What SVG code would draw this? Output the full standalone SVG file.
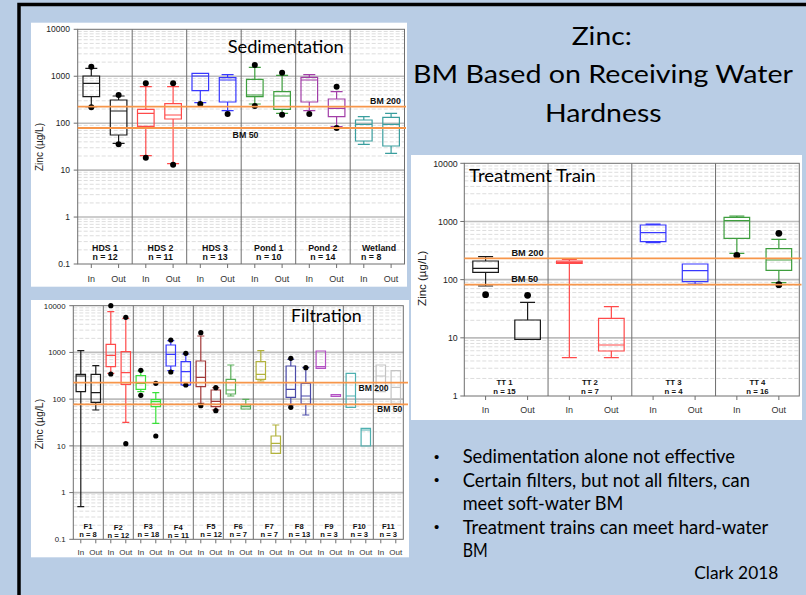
<svg xmlns="http://www.w3.org/2000/svg" xmlns:xlink="http://www.w3.org/1999/xlink" width="806" height="595" viewBox="0 0 806 595">
<style>
.bg{fill:#B9CDE5}
.panel{fill:#FFFFFF}
.minor{fill:none;stroke:#D4D4D4;stroke-width:0.8;stroke-dasharray:4 2}
.major{fill:none;stroke:#BDBDBD;stroke-width:1.6}
.frame{fill:none;stroke:#6E6E6E;stroke-width:1}
.bm{fill:none;stroke:#F7964A;stroke-width:1.8}
.bx{fill:none;stroke-width:1.2}
.dot{fill:#000}
.k{stroke:#1A1A1A}.r{stroke:#FF4A4A}.b{stroke:#3838FF}.g{stroke:#3E9E3E}.p{stroke:#A23EA8}.t{stroke:#3A9E9E}
.l{stroke:#3AE03A}.dr{stroke:#A23A3A}.gr{stroke:#5AAE5A}.o{stroke:#B2B23C}.s{stroke:#4A4AA8}.p2{stroke:#B452C4}.t2{stroke:#4EB0B0}.lg{stroke:#C4C4C4}
.ax{font-family:"Liberation Sans",Arial,sans-serif;fill:#222}
.lab{font-family:"Liberation Sans",Arial,sans-serif;font-weight:bold;fill:#111;text-anchor:middle}
.io{font-family:"Liberation Sans",Arial,sans-serif;fill:#333;text-anchor:middle}
.cal{font-family:Lato,"Liberation Sans",sans-serif;fill:#000}
.bul{font-family:"Liberation Sans",Arial,sans-serif;fill:#000;text-anchor:middle}
</style>
<defs>
<path id="decS" class="minor" d="M0 2.15h326.8M0 4.55h326.8M0 7.27h326.8M0 10.41h326.8M0 14.13h326.8M0 18.68h326.8M0 24.54h326.8M0 32.81h326.8"/>
<path id="decF" class="minor" d="M0 2.14h330M0 4.53h330M0 7.24h330M0 10.36h330M0 14.06h330M0 18.59h330M0 24.43h330M0 32.66h330"/>
<path id="decT" class="minor" d="M0 2.66h335M0 5.64h335M0 9.01h335M0 12.9h335M0 17.51h335M0 23.15h335M0 30.42h335M0 40.67h335"/>
</defs>

<rect class="bg" x="0" y="0" width="806" height="595"/>
<path d="M19 595V4.5H806" fill="none" stroke="#000" stroke-width="3.5"/>

<!-- Sedimentation chart -->
<g id="sedimentation">
<rect class="panel" x="31" y="22.7" width="376" height="264"/>
<use xlink:href="#decS" x="77.7" y="29.3"/>
<use xlink:href="#decS" x="77.7" y="76.24"/>
<use xlink:href="#decS" x="77.7" y="123.18"/>
<use xlink:href="#decS" x="77.7" y="170.12"/>
<use xlink:href="#decS" x="77.7" y="217.06"/>
<path class="major" d="M77.7 76.24H404.5M77.7 123.18H404.5M77.7 170.12H404.5M77.7 217.06H404.5"/>
<rect class="frame" x="77.7" y="29.3" width="326.8" height="234.7"/>
<path class="frame" d="M132.2 29.3V264M186.7 29.3V264M241.2 29.3V264M295.7 29.3V264M350.2 29.3V264M73.7 29.3H77.7M73.7 76.24H77.7M73.7 123.18H77.7M73.7 170.12H77.7M73.7 217.06H77.7M73.7 264H77.7M91.3 264v4M118.6 264v4M145.8 264v4M173.1 264v4M200.3 264v4M227.6 264v4M254.8 264v4M282.1 264v4M309.3 264v4M336.6 264v4M363.8 264v4M391.1 264v4"/>
<path class="bx k" d="M83 76H99.6V96.7H83ZM83 83.3H99.6M91.3 68.3V76M91.3 96.7V106.7M85.3 68.3H97.3M85.3 106.7H97.3"/>
<path class="bx k" d="M110.3 100H126.9V135H110.3ZM110.3 111H126.9M118.6 96V100M118.6 135V143.3M112.6 96H124.6M112.6 143.3H124.6"/>
<path class="bx r" d="M137.5 109.3H154.1V126.3H137.5ZM137.5 113.3H154.1M145.8 86.7V109.3M145.8 126.3V155.7M139.8 86.7H151.8M139.8 155.7H151.8"/>
<path class="bx r" d="M164.8 103.7H181.4V119H164.8ZM164.8 115H181.4M173.1 86.7V103.7M173.1 119V163.7M167.1 86.7H179.1M167.1 163.7H179.1"/>
<path class="bx b" d="M192 73.3H208.6V90.7H192ZM192 76H208.6M200.3 90.7V102.7M194.3 73.3H206.3M194.3 102.7H206.3"/>
<path class="bx b" d="M219.3 77.7H235.9V102H219.3ZM219.3 80H235.9M227.6 74.7V77.7M227.6 102V110.7M221.6 74.7H233.6M221.6 110.7H233.6"/>
<path class="bx g" d="M246.5 79.3H263.1V96.7H246.5ZM246.5 95H263.1M254.8 67.3V79.3M254.8 96.7V104M248.8 67.3H260.8M248.8 104H260.8"/>
<path class="bx g" d="M273.8 91.7H290.4V109.3H273.8ZM273.8 96H290.4M282.1 75.3V91.7M282.1 109.3V113.3M276.1 75.3H288.1M276.1 113.3H288.1"/>
<path class="bx p" d="M301 77.3H317.6V102H301ZM301 80H317.6M309.3 74.7V77.3M309.3 102V110.7M303.3 74.7H315.3M303.3 110.7H315.3"/>
<path class="bx p" d="M328.3 99H344.9V116.7H328.3ZM328.3 108.3H344.9M336.6 91.7V99M336.6 116.7V126.7M330.6 91.7H342.6M330.6 126.7H342.6"/>
<path class="bx t" d="M355.5 120H372.1V141H355.5ZM355.5 124.3H372.1M363.8 116.7V120M363.8 141V144.3M357.8 116.7H369.8M357.8 144.3H369.8"/>
<path class="bx t" d="M382.8 117.3H399.4V146H382.8ZM382.8 124.3H399.4M391.1 113.3V117.3M391.1 146V153.3M385.1 113.3H397.1M385.1 153.3H397.1"/>
<g class="dot">
<circle cx="91.3" cy="66.7" r="3"/><circle cx="91.3" cy="107.3" r="3"/>
<circle cx="118.6" cy="95" r="3"/><circle cx="118.6" cy="144.3" r="3"/>
<circle cx="145.8" cy="83.3" r="3"/><circle cx="145.8" cy="157.7" r="3"/>
<circle cx="173.1" cy="83.3" r="3"/><circle cx="173.1" cy="164.7" r="3"/>
<circle cx="200.3" cy="104" r="3"/>
<circle cx="227.6" cy="114" r="3"/>
<circle cx="254.8" cy="65" r="3"/><circle cx="254.8" cy="106" r="3"/>
<circle cx="282.1" cy="72.7" r="3"/><circle cx="282.1" cy="114.7" r="3"/>
<circle cx="309.3" cy="114" r="3"/>
<circle cx="336.6" cy="86.7" r="3"/><circle cx="336.6" cy="128" r="3"/>
</g>
<path class="bm" d="M77.7 106.7H406M77.7 128H406"/>
<g class="ax" font-size="8.5" text-anchor="end">
<text x="70" y="32.3">10000</text><text x="70" y="79.3">1000</text><text x="70" y="126.2">100</text><text x="70" y="173.2">10</text><text x="70" y="220.1">1</text><text x="70" y="267">0.1</text>
</g>
<text class="ax" font-size="10" text-anchor="middle" transform="translate(42.5,147) rotate(-90)">Zinc (µg/L)</text>
<text class="cal" x="227.7" y="53.3" font-size="16.5" textLength="116" lengthAdjust="spacingAndGlyphs">Sedimentation</text>
<g class="lab" font-size="8.8">
<text x="105" y="250.5">HDS 1</text><text x="105" y="260">n = 12</text>
<text x="160.5" y="250.5">HDS 2</text><text x="160.5" y="260">n = 11</text>
<text x="215" y="250.5">HDS 3</text><text x="215" y="260">n = 13</text>
<text x="268.7" y="250.5">Pond 1</text><text x="268.7" y="260">n = 10</text>
<text x="322.8" y="250.5">Pond 2</text><text x="322.8" y="260">n = 14</text>
<text x="379" y="250.5">Wetland</text><text x="361" y="260" text-anchor="start">n = 8</text>
<text x="385.5" y="104.3">BM 200</text><text x="245.5" y="138">BM 50</text>
</g>
<g class="io" font-size="9">
<text x="91.3" y="281.5">In</text><text x="118.6" y="281.5">Out</text>
<text x="145.8" y="281.5">In</text><text x="173.1" y="281.5">Out</text>
<text x="200.3" y="281.5">In</text><text x="227.6" y="281.5">Out</text>
<text x="254.8" y="281.5">In</text><text x="282.1" y="281.5">Out</text>
<text x="309.3" y="281.5">In</text><text x="336.6" y="281.5">Out</text>
<text x="363.8" y="281.5">In</text><text x="391.1" y="281.5">Out</text>
</g>
</g>

<!-- Filtration chart -->
<g id="filtration">
<rect class="panel" x="31" y="300" width="378" height="257.3"/>
<use xlink:href="#decF" x="73.3" y="305.7"/>
<use xlink:href="#decF" x="73.3" y="352.42"/>
<use xlink:href="#decF" x="73.3" y="399.14"/>
<use xlink:href="#decF" x="73.3" y="445.86"/>
<use xlink:href="#decF" x="73.3" y="492.58"/>
<path class="major" d="M73.3 352.42H403.3M73.3 399.14H403.3M73.3 445.86H403.3M73.3 492.58H403.3"/>
<rect class="frame" x="73.3" y="305.7" width="330" height="233.6"/>
<path class="frame" d="M103.3 305.7V539.3M133.3 305.7V539.3M163.3 305.7V539.3M193.3 305.7V539.3M223.3 305.7V539.3M253.3 305.7V539.3M283.3 305.7V539.3M313.3 305.7V539.3M343.3 305.7V539.3M373.3 305.7V539.3M69.3 305.7H73.3M69.3 352.42H73.3M69.3 399.14H73.3M69.3 445.86H73.3M69.3 492.58H73.3M69.3 539.3H73.3M80.8 539.3v4M95.8 539.3v4M110.8 539.3v4M125.8 539.3v4M140.8 539.3v4M155.8 539.3v4M170.8 539.3v4M185.8 539.3v4M200.8 539.3v4M215.8 539.3v4M230.8 539.3v4M245.8 539.3v4M260.8 539.3v4M275.8 539.3v4M290.8 539.3v4M305.8 539.3v4M320.8 539.3v4M335.8 539.3v4M350.8 539.3v4M365.8 539.3v4M380.8 539.3v4M395.8 539.3v4"/>
<path class="bx k" d="M76.1 374.3H85.5V391.7H76.1ZM76.1 376H85.5M80.8 350.7V374.3M80.8 391.7V506.7M77.3 350.7H84.3M77.3 506.7H84.3"/>
<path class="bx k" d="M91.1 374.3H100.5V402.3H91.1ZM91.1 392.7H100.5M95.8 365.7V374.3M95.8 402.3V410M92.3 365.7H99.3M92.3 410H99.3"/>
<path class="bx r" d="M106.1 344.3H115.5V366.7H106.1ZM106.1 355.3H115.5M110.8 311.7V344.3M110.8 366.7V373.3M107.3 311.7H114.3M107.3 373.3H114.3"/>
<path class="bx r" d="M121.1 351.7H130.5V384.3H121.1ZM121.1 372.7H130.5M125.8 318.3V351.7M125.8 384.3V422.3M122.3 318.3H129.3M122.3 422.3H129.3"/>
<path class="bx l" d="M136.1 375.7H145.5V389.3H136.1ZM136.1 383.3H145.5M140.8 371V375.7M140.8 389.3V391.7M137.3 371H144.3M137.3 391.7H144.3"/>
<path class="bx l" d="M151.1 399.7H160.5V406.7H151.1ZM151.1 401.7H160.5M155.8 392.7V399.7M155.8 406.7V423.3M152.3 392.7H159.3M152.3 423.3H159.3"/>
<path class="bx b" d="M166.1 345H175.5V366H166.1ZM166.1 354.3H175.5M170.8 340.7V345M170.8 366V370.7M167.3 340.7H174.3M167.3 370.7H174.3"/>
<path class="bx b" d="M181.1 361.7H190.5V385H181.1ZM181.1 371.7H190.5M185.8 354V361.7M182.3 354H189.3M182.3 385.3H189.3"/>
<path class="bx dr" d="M196.1 361H205.5V386.7H196.1ZM196.1 377.3H205.5M200.8 336V361M200.8 386.7V403.3M197.3 336H204.3M197.3 403.3H204.3"/>
<path class="bx dr" d="M211.1 390H220.5V406.7H211.1ZM211.1 401.3H220.5M215.8 387.7V390M215.8 406.7V410M212.3 387.7H219.3M212.3 410H219.3"/>
<path class="bx gr" d="M226.1 379.3H235.5V394H226.1ZM226.1 390H235.5M230.8 365V379.3M230.8 394V396M227.3 365H234.3M227.3 396H234.3"/>
<path class="bx gr" d="M241.1 405H250.5V409H241.1ZM241.1 406.7H250.5M245.8 399.3V405M242.3 399.3H249.3"/>
<path class="bx o" d="M256.1 361.7H265.5V379.3H256.1ZM256.1 374.3H265.5M260.8 350.7V361.7M260.8 379.3V381M257.3 350.7H264.3M257.3 381H264.3"/>
<path class="bx o" d="M271.1 436H280.5V453.3H271.1ZM271.1 443.3H280.5M275.8 425V436M272.3 425H279.3"/>
<path class="bx s" d="M286.1 366H295.5V397.3H286.1ZM286.1 389.3H295.5M290.8 359.3V366M290.8 397.3V405M287.3 359.3H294.3M287.3 405H294.3"/>
<path class="bx s" d="M301.1 383.3H310.5V404H301.1ZM301.1 396H310.5M305.8 367.7V383.3M305.8 404V415M302.3 367.7H309.3M302.3 415H309.3"/>
<path class="bx p2" d="M316.1 351H325.5V368.3H316.1ZM316.1 366.7H325.5"/>
<path class="bx p2" d="M331.1 394.7H340.5V396.3H331.1Z"/>
<path class="bx t2" d="M346.1 373.3H355.5V407.3H346.1ZM346.1 396H355.5"/>
<path class="bx t2" d="M361.1 428.3H370.5V446H361.1ZM361.1 430H370.5"/>
<path class="bx lg" d="M376.1 365H385.5V391.7H376.1ZM376.1 376H385.5"/>
<path class="bx lg" d="M391.1 370.7H400.5V403.3H391.1ZM391.1 387.3H400.5"/>
<g class="dot">
<circle cx="110.8" cy="305.7" r="2.6"/><circle cx="110.8" cy="374" r="2.6"/>
<circle cx="125.8" cy="317.3" r="2.6"/><circle cx="125.8" cy="443.7" r="2.6"/>
<circle cx="140.8" cy="370.3" r="2.6"/><circle cx="140.8" cy="395.3" r="2.6"/>
<circle cx="155.8" cy="383.3" r="2.6"/><circle cx="155.8" cy="436" r="2.6"/>
<circle cx="170.8" cy="340" r="2.6"/><circle cx="170.8" cy="372" r="2.6"/>
<circle cx="185.8" cy="353.3" r="2.6"/><circle cx="185.8" cy="385" r="2.6"/>
<circle cx="200.8" cy="332.7" r="2.6"/><circle cx="200.8" cy="405.7" r="2.6"/>
<circle cx="215.8" cy="387.7" r="2.6"/><circle cx="215.8" cy="410.7" r="2.6"/>
<circle cx="290.8" cy="358.3" r="2.6"/><circle cx="290.8" cy="407.3" r="2.6"/>
<circle cx="305.8" cy="367.7" r="2.6"/>
</g>
<path class="bm" d="M73.3 382.7H408M73.3 404.3H408"/>
<g class="ax" font-size="7.8" text-anchor="end">
<text x="65.5" y="308.5">10000</text><text x="65.5" y="355.2">1000</text><text x="65.5" y="401.9">100</text><text x="65.5" y="448.6">10</text><text x="65.5" y="495.3">1</text><text x="65.5" y="542.1">0.1</text>
</g>
<text class="ax" font-size="10.5" text-anchor="middle" transform="translate(43,424) rotate(-90)">Zinc (µg/L)</text>
<text class="cal" x="291" y="321.7" font-size="16.5" textLength="70.7" lengthAdjust="spacingAndGlyphs">Filtration</text>
<g class="lab" font-size="7.6">
<text x="88" y="529.3">F1</text><text x="88" y="537">n = 8</text>
<text x="118.3" y="530">F2</text><text x="118.3" y="537.5">n = 12</text>
<text x="148.3" y="529.3">F3</text><text x="148.3" y="537">n = 18</text>
<text x="178.3" y="530.3">F4</text><text x="178.3" y="538.3">n = 11</text>
<text x="211" y="529.3">F5</text><text x="211" y="537">n = 12</text>
<text x="238.3" y="529.3">F6</text><text x="238.3" y="537">n = 7</text>
<text x="269.3" y="529.3">F7</text><text x="269.3" y="537">n = 7</text>
<text x="299.3" y="529.3">F8</text><text x="299.3" y="537">n = 13</text>
<text x="329" y="529.3">F9</text><text x="329" y="537">n = 3</text>
<text x="359.3" y="529.3">F10</text><text x="359.3" y="537">n = 3</text>
<text x="388.3" y="529.3">F11</text><text x="388.3" y="537">n = 3</text>
</g>
<g class="lab" font-size="8.6">
<text x="373.5" y="391">BM 200</text><text x="389.7" y="411.7">BM 50</text>
</g>
<g class="io" font-size="8">
<text x="80.8" y="554.5">In</text><text x="95.8" y="554.5">Out</text>
<text x="110.8" y="554.5">In</text><text x="125.8" y="554.5">Out</text>
<text x="140.8" y="554.5">In</text><text x="155.8" y="554.5">Out</text>
<text x="170.8" y="554.5">In</text><text x="185.8" y="554.5">Out</text>
<text x="200.8" y="554.5">In</text><text x="215.8" y="554.5">Out</text>
<text x="230.8" y="554.5">In</text><text x="245.8" y="554.5">Out</text>
<text x="260.8" y="554.5">In</text><text x="275.8" y="554.5">Out</text>
<text x="290.8" y="554.5">In</text><text x="305.8" y="554.5">Out</text>
<text x="320.8" y="554.5">In</text><text x="335.8" y="554.5">Out</text>
<text x="350.8" y="554.5">In</text><text x="365.8" y="554.5">Out</text>
<text x="380.8" y="554.5">In</text><text x="395.8" y="554.5">Out</text>
</g>
</g>

<!-- Treatment Train chart -->
<g id="treatment-train">
<rect class="panel" x="411" y="155" width="391" height="265"/>
<use xlink:href="#decT" x="464.3" y="163.3"/>
<use xlink:href="#decT" x="464.3" y="221.48"/>
<use xlink:href="#decT" x="464.3" y="279.65"/>
<use xlink:href="#decT" x="464.3" y="337.83"/>
<path class="major" d="M464.3 221.48H799.3M464.3 279.65H799.3M464.3 337.83H799.3"/>
<rect class="frame" x="464.3" y="163.3" width="335" height="232.7"/>
<path class="frame" d="M548.05 163.3V396M631.8 163.3V396M715.55 163.3V396M460.3 163.3H464.3M460.3 221.48H464.3M460.3 279.65H464.3M460.3 337.83H464.3M460.3 396H464.3M485.6 396v4M527.6 396v4M569.35 396v4M611.35 396v4M653.1 396v4M695.1 396v4M736.85 396v4M778.85 396v4"/>
<path class="bx k" d="M472.8 261H498.4V272.3H472.8ZM472.8 268.3H498.4M485.6 256.7V261M485.6 272.3V286M478.1 256.7H493.1M478.1 286H493.1"/>
<path class="bx k" d="M514.8 320H540.4V339.3H514.8ZM527.6 302.3V320M520.1 302.3H535.1"/>
<path class="bx r" d="M556.55 261H582.15V263.3H556.55ZM556.55 262.3H582.15M569.35 259.3V261M569.35 263.3V357.7M561.85 259.3H576.85M561.85 357.7H576.85"/>
<path class="bx r" d="M598.55 318.3H624.15V351H598.55ZM598.55 345H624.15M611.35 306.7V318.3M611.35 351V357.7M603.85 306.7H618.85M603.85 357.7H618.85"/>
<path class="bx b" d="M640.3 225H665.9V241.7H640.3ZM640.3 232.7H665.9M653.1 224V225M653.1 241.7V242.7M645.6 224H660.6M645.6 242.7H660.6"/>
<path class="bx b" d="M682.3 264H707.9V281.7H682.3ZM682.3 270.7H707.9M695.1 281.7V284M687.6 284H702.6"/>
<path class="bx g" d="M724.05 217.3H749.65V238.3H724.05ZM724.05 220.7H749.65M736.85 216V217.3M736.85 238.3V253.3M729.35 216H744.35M729.35 253.3H744.35"/>
<path class="bx g" d="M766.05 248.7H791.65V270.3H766.05ZM766.05 260H791.65M778.85 239.3V248.7M778.85 270.3V282.7M771.35 239.3H786.35M771.35 282.7H786.35"/>
<g class="dot">
<circle cx="485.6" cy="294.7" r="3.4"/>
<circle cx="527.6" cy="295.3" r="3.4"/>
<circle cx="736.85" cy="255.3" r="3.4"/>
<circle cx="778.85" cy="233.3" r="3.4"/><circle cx="778.85" cy="284.7" r="3.4"/>
</g>
<path class="bm" d="M464.3 258.3H801.5M464.3 284.7H801.5"/>
<g class="ax" font-size="8.8" text-anchor="end">
<text x="457.7" y="166.5">10000</text><text x="457.7" y="224.6">1000</text><text x="457.7" y="282.8">100</text><text x="457.7" y="341">10</text><text x="457.7" y="399.2">1</text>
</g>
<text class="ax" font-size="11.5" text-anchor="middle" transform="translate(426,278.3) rotate(-90)">Zinc (µg/L)</text>
<text class="cal" x="469" y="181.7" font-size="16.5" textLength="126.7" lengthAdjust="spacingAndGlyphs">Treatment Train</text>
<g class="lab" font-size="7.8">
<text x="504.5" y="385">TT 1</text><text x="504.5" y="394.3">n = 15</text>
<text x="589.9" y="385">TT 2</text><text x="589.9" y="394.3">n = 7</text>
<text x="673.5" y="385">TT 3</text><text x="673.5" y="394.3">n = 4</text>
<text x="757.4" y="385">TT 4</text><text x="757.4" y="394.3">n = 16</text>
</g>
<g class="lab" font-size="9.2">
<text x="527.5" y="256">BM 200</text><text x="524.7" y="281.7">BM 50</text>
</g>
<g class="io" font-size="9">
<text x="485.6" y="413.3">In</text><text x="527.6" y="413.3">Out</text>
<text x="569.35" y="413.3">In</text><text x="611.35" y="413.3">Out</text>
<text x="653.1" y="413.3">In</text><text x="695.1" y="413.3">Out</text>
<text x="736.85" y="413.3">In</text><text x="778.85" y="413.3">Out</text>
</g>
</g>

<!-- Title -->
<g id="title" class="cal" font-size="25" text-anchor="middle">
<text x="601.7" y="45" textLength="60" lengthAdjust="spacingAndGlyphs">Zinc:</text>
<text x="603" y="83.3" textLength="380" lengthAdjust="spacingAndGlyphs">BM Based on Receiving Water</text>
<text x="603.3" y="121.7" textLength="116.7" lengthAdjust="spacingAndGlyphs">Hardness</text>
</g>

<!-- Bullets -->
<g id="bullets" class="cal" font-size="18.5">
<text class="bul" x="436.7" y="462" font-size="15">•</text>
<text x="462.7" y="463.3" textLength="272.3" lengthAdjust="spacingAndGlyphs">Sedimentation alone not effective</text>
<text class="bul" x="436.7" y="485.2" font-size="15">•</text>
<text x="462.7" y="486.5" textLength="287.3" lengthAdjust="spacingAndGlyphs">Certain filters, but not all filters, can</text>
<text x="462.7" y="510" textLength="160.6" lengthAdjust="spacingAndGlyphs">meet soft-water BM</text>
<text class="bul" x="436.7" y="532.2" font-size="15">•</text>
<text x="462.7" y="533.5" textLength="305.6" lengthAdjust="spacingAndGlyphs">Treatment trains can meet hard-water</text>
<text x="462.7" y="557.3" textLength="25" lengthAdjust="spacingAndGlyphs">BM</text>
</g>
<text id="credit" class="cal" x="694.3" y="579.3" font-size="18" textLength="84" lengthAdjust="spacingAndGlyphs">Clark 2018</text>
</svg>
